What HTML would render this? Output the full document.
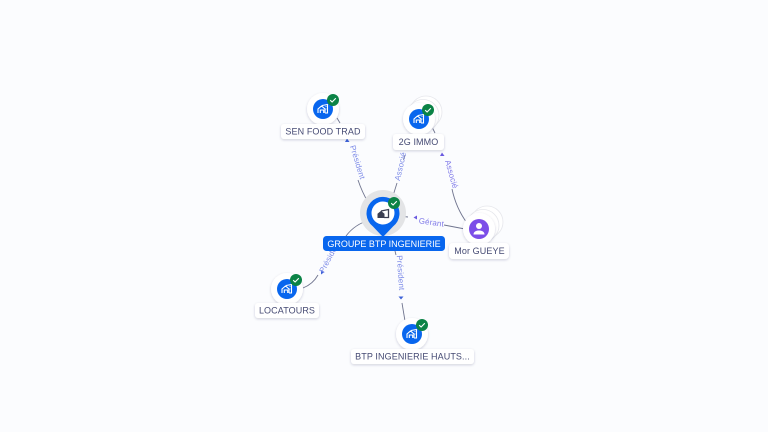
<!DOCTYPE html>
<html><head><meta charset="utf-8"><style>
html,body{margin:0;padding:0;background:#fbfcfe;width:768px;height:432px;overflow:hidden}
svg{display:block}
text{font-family:"Liberation Sans",sans-serif}
.l{font-size:9px;fill:#454a73;text-anchor:middle;letter-spacing:.1px}
.e{font-size:8px;fill:#7d8be8;text-anchor:middle;letter-spacing:.15px}
.p{font-size:8px;fill:#7f79e8;text-anchor:middle;letter-spacing:.15px}
.c{fill:none;stroke:#70758f;stroke-width:.9}
.r{fill:#fff;filter:url(#s)}
.n{fill:#fff;filter:url(#s)}
.t{fill:#fff;stroke:#e6e7ec;stroke-width:.8}
.h{fill:none;stroke:#fff;stroke-width:1.1}
</style></head><body>
<svg width="768" height="432" viewBox="0 0 768 432" xmlns="http://www.w3.org/2000/svg">
<defs>
<filter id="s" x="-30%" y="-50%" width="160%" height="200%"><feDropShadow dx="0" dy="1" stdDeviation="1.4" flood-color="#1b2550" flood-opacity=".2"/></filter>
<g id="b"><path class="h" d="M-5 4V0L-1.500-3 2 0V4M-2.700 4V1H.7V4M-1-3.500 4.500-4.500V4H2"/><path d="M2.500-2.500h1M2.500 0h1" stroke="#fff" stroke-width=".8"/></g>
<g id="k"><circle r="6" fill="#0b8346"/><path d="M-2.800.2-.9 2 2.800-1.800" fill="none" stroke="#fff" stroke-width="1.100"/></g>
</defs>
<rect width="768" height="432" fill="#fbfcfe"/>

<!-- connectors -->
<path class="c" d="M337 118 340 123M358 180Q362 192 368 202"/>
<path class="c" d="M405 155 403.500 160M397 183 392 199"/>
<path class="c" d="M432 127 435 133M452 189Q456 208 467 223"/>
<path class="c" d="M444 225 465 229M398 216 408 217"/>
<path class="c" d="M303 288Q313 284 318 275M346 236Q355 224 370 220"/>
<path class="c" d="M395 251 396 255M402 303 405 321"/>

<!-- arrowheads -->
<path d="M347 138.500 349.500 142 345 142Z" fill="#3d62d8"/>
<path d="M442 152.500 444.500 156 440 156Z" fill="#6a5ae0"/>
<path d="M413.500 217.500 417 215.500 417 219.500Z" fill="#6a5ae0"/>
<path d="M321 270 324.500 272 321 274.500Z" fill="#3d62d8"/>
<path d="M401 299.500 398.500 296.500 403.500 296.500Z" fill="#3d62d8"/>

<!-- edge labels -->
<text class="e" transform="translate(355 163) rotate(73)">Président</text>
<text class="e" transform="translate(403 167) rotate(-77)">Associé</text>
<text class="p" transform="translate(449 175) rotate(74)">Associé</text>
<text class="p" transform="translate(431 225) rotate(8)">Gérant</text>
<text class="e" transform="translate(332 258) rotate(-62)">Président</text>
<text class="e" transform="translate(398 273) rotate(86)">Président</text>

<!-- SEN FOOD TRAD -->
<circle class="n" cx="323" cy="109" r="16"/>
<circle cx="323" cy="109" r="10" fill="#0866ee"/>
<use href="#b" x="323" y="109"/>
<use href="#k" x="333" y="100"/>
<rect class="r" x="281" y="124" width="84" height="15" rx="3"/>
<text class="l" x="323" y="134.500">SEN FOOD TRAD</text>

<!-- 2G IMMO -->
<circle class="t" cx="426" cy="112" r="16"/>
<circle class="t" cx="423" cy="115.500" r="16"/>
<circle class="n" cx="419" cy="119" r="16"/>
<circle cx="419" cy="119" r="10" fill="#0866ee"/>
<use href="#b" x="419" y="119"/>
<use href="#k" x="428" y="110"/>
<rect class="r" x="393" y="134" width="51" height="16" rx="3"/>
<text class="l" x="418.500" y="145">2G IMMO</text>

<!-- Mor GUEYE -->
<circle class="t" cx="487" cy="222" r="16"/>
<circle class="t" cx="483" cy="225.500" r="16"/>
<circle class="n" cx="479" cy="229" r="16"/>
<circle cx="479" cy="229" r="10" fill="#7c4ee8"/>
<circle cx="479" cy="226" r="3" fill="#fff"/>
<path d="M473.500 234.500c0-2.800 2.500-4 5.500-4s5.500 1.200 5.500 4z" fill="#fff"/>
<rect class="r" x="449" y="243" width="60" height="16" rx="4"/>
<text class="l" x="479.500" y="254">Mor GUEYE</text>

<!-- LOCATOURS -->
<circle class="n" cx="287" cy="289" r="16"/>
<circle cx="287" cy="289" r="10" fill="#0866ee"/>
<use href="#b" x="287" y="289"/>
<use href="#k" x="296" y="280"/>
<rect class="r" x="255" y="303" width="64" height="15" rx="3"/>
<text class="l" x="287" y="313.500">LOCATOURS</text>

<!-- BTP -->
<circle class="n" cx="412" cy="334" r="16"/>
<circle cx="412" cy="334" r="10" fill="#0866ee"/>
<use href="#b" x="412" y="334"/>
<use href="#k" x="422" y="325"/>
<rect class="r" x="351" y="349" width="123" height="15" rx="3"/>
<text class="l" x="412.500" y="359.500">BTP INGENIERIE HAUTS...</text>

<!-- central node -->
<circle cx="383" cy="213" r="23" fill="#e3e4e6"/>
<path d="M383 237 373 226.500A16.500 16.500 0 1 1 393 226.500Z" fill="#0866ee"/>
<circle cx="383" cy="213" r="11.500" fill="#fff"/>
<path d="M378 217.500V214L381 211.500 384 214V217.500Z" fill="#3b3f52" stroke="#3b3f52" stroke-width="1"/>
<path d="M381 211 388.500 209.500V217.500H384" fill="none" stroke="#3b3f52" stroke-width="1.300"/>
<use href="#k" x="394" y="203"/>
<rect x="323" y="236" width="122" height="15" rx="3.500" fill="#0866ee"/>
<text x="384" y="247" font-size="9" fill="#fff" text-anchor="middle">GROUPE BTP INGENIERIE</text>
</svg>
</body></html>
